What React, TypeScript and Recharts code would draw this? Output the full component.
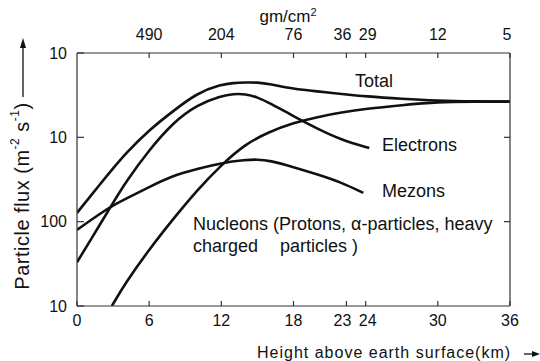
import React from 'react';
import { LineChart, Line, XAxis, YAxis, Customized } from 'recharts';

const FONT = '"Liberation Sans", Arial, sans-serif';

// Height above earth surface (km) and particle flux values per series
const totalKm = [0, 2, 3, 4, 6, 8, 10, 12, 13, 14, 15, 16, 18, 20, 22, 24, 27, 30, 33, 36];
const totalFlux = [127, 288, 428, 635, 1225, 2055, 3365, 4235, 4415, 4480, 4480, 4300, 3750, 3505, 3270, 3055, 2860, 2720, 2665, 2650];

const electronKm = [0, 2, 3, 4, 6, 8, 10, 12, 13, 14, 15, 16, 18, 20, 22, 24.3];
const electronFlux = [33, 97, 167, 288, 710, 1503, 2440, 3100, 3270, 3270, 2990, 2560, 1780, 1262, 931, 748];

const mezonKm = [0, 2, 3, 4, 6, 8, 10, 12, 14, 15, 16, 18, 20, 22, 23.8];
const mezonFlux = [80, 127, 156, 185, 258, 353, 422, 497, 540, 547, 532, 445, 363, 292, 219];

const nucleonKm = [2.9, 4, 6, 8, 10, 12, 14, 16, 18, 20, 22, 24, 27, 30, 33, 36];
const nucleonFlux = [10, 18.5, 46.9, 108, 238, 471, 835, 1165, 1487, 1746, 1973, 2178, 2410, 2630, 2645, 2650];

// Axis ticks
const bottomTickKm = [0, 6, 12, 18, 22.4, 24, 30, 36];
const bottomTickLabels = ['0', '6', '12', '18', '23', '24', '30', '36'];
const topTickKm = [6, 12, 18, 22.4, 24, 30, 36];
const topTickLabels = ['490', '204', '76', '36', '29', '12', '5'];
const fluxTicks = [10, 100, 1000, 10000];
const fluxTickLabels = ['10', '100', '10', '10'];

// label nudges (px) so adjacent tick labels do not collide
const bottomLabelNudge = [0, 0, 0, 0, -4, 2, 0, 0];
const topLabelNudge = [0, 0, 0, -4, 2, 0, -3];

const toData = (xs: number[], ys: number[]) => xs.map((km, i) => ({ km, flux: ys[i] }));
const totalData = toData(totalKm, totalFlux);
const electronData = toData(electronKm, electronFlux);
const mezonData = toData(mezonKm, mezonFlux);
const nucleonData = toData(nucleonKm, nucleonFlux);

const INK = '#111';
const AXIS = '#333';

const makeTick = (ticks: number[], labels: string[], nudge: number[], pos: 'top' | 'bottom') =>
  (props: any) => {
    const { x, y, payload } = props;
    const i = ticks.indexOf(payload.value);
    return (
      <text
        x={x + (nudge[i] || 0)}
        y={y}
        dy={pos === 'bottom' ? '0.71em' : 0}
        textAnchor="middle"
        fill={INK}
        fontSize={16}
        fontFamily={FONT}
      >
        {i >= 0 ? labels[i] : ''}
      </text>
    );
  };

const ChartTexts = () => (
  <g fontFamily={FONT} fill={INK}>
    {/* y-axis title */}
    <text
      x={22}
      y={196}
      transform="rotate(-90 22 196)"
      textAnchor="middle"
      dominantBaseline="central"
      fontSize={20}
      letterSpacing={0.5}
    >
      Particle flux (m<tspan dy={-7} fontSize={12}>-2</tspan>
      <tspan dy={7}> s</tspan>
      <tspan dy={-7} fontSize={12}>-1</tspan>
      <tspan dy={7}>)</tspan>
    </text>
    <line x1={23} y1={97} x2={23} y2={46} stroke={INK} strokeWidth={1.3} />
    <polygon points="23,38 20,48 26,48" fill={INK} />

    {/* x-axis title */}
    <text x={257} y={358} fontSize={16} letterSpacing={1}>
      Height above earth surface(km)
    </text>
    <line x1={524} y1={354} x2={533} y2={354} stroke={INK} strokeWidth={1.3} />
    <polygon points="540,354 532,351 532,357" fill={INK} />

    {/* top axis title */}
    <text x={288} y={22} textAnchor="middle" fontSize={17}>
      gm/cm<tspan dy={-6} fontSize={11}>2</tspan>
    </text>

    {/* series labels */}
    <text x={355} y={87} fontSize={18}>Total</text>
    <text x={382} y={151} fontSize={18}>Electrons</text>
    <text x={382} y={197} fontSize={18}>Mezons</text>
    <text x={193} y={230} fontSize={18}>Nucleons</text>
    <text x={273} y={230} fontSize={18}>(Protons, α-particles, heavy</text>
    <text x={193} y={252} fontSize={18}>charged</text>
    <text x={280} y={252} fontSize={18}>particles )</text>
  </g>
);

const tickStyle = { fill: INK, fontSize: 16, fontFamily: FONT };

export default function App() {
  return (
    <div style={{ position: 'absolute', left: 0, top: 0, background: '#fff' }}>
      <LineChart width={540} height={361} margin={{ top: 0, right: 0, bottom: 0, left: 0 }}>
        <XAxis
          xAxisId="bottom"
          type="number"
          dataKey="km"
          domain={[0, 36]}
          ticks={bottomTickKm}
          interval={0}
          height={55}
          tickSize={-5}
          tickMargin={14}
          tick={makeTick(bottomTickKm, bottomTickLabels, bottomLabelNudge, 'bottom')}
          axisLine={{ stroke: AXIS, strokeWidth: 1.2 }}
          tickLine={{ stroke: AXIS, strokeWidth: 1.2 }}
          allowDataOverflow
        />
        <XAxis
          xAxisId="top"
          orientation="top"
          type="number"
          dataKey="km"
          domain={[0, 36]}
          ticks={topTickKm}
          interval={0}
          height={53}
          tickSize={-5}
          tickMargin={18}
          tick={makeTick(topTickKm, topTickLabels, topLabelNudge, 'top')}
          axisLine={{ stroke: AXIS, strokeWidth: 1.2 }}
          tickLine={{ stroke: AXIS, strokeWidth: 1.2 }}
          allowDataOverflow
        />
        <YAxis
          yAxisId="left"
          scale="log"
          type="number"
          domain={[10, 10000]}
          ticks={fluxTicks}
          interval={0}
          tickFormatter={(v: number) => fluxTickLabels[fluxTicks.indexOf(v)] ?? ''}
          width={77}
          tickSize={-7}
          tickMargin={17}
          tick={tickStyle}
          axisLine={{ stroke: AXIS, strokeWidth: 1.2 }}
          tickLine={{ stroke: AXIS, strokeWidth: 1.2 }}
          allowDataOverflow
        />
        <YAxis
          yAxisId="right"
          orientation="right"
          scale="log"
          type="number"
          domain={[10, 10000]}
          ticks={[100, 1000]}
          interval={0}
          tickFormatter={() => ''}
          width={30}
          tickSize={-6}
          tick={tickStyle}
          axisLine={{ stroke: AXIS, strokeWidth: 1.2 }}
          tickLine={{ stroke: AXIS, strokeWidth: 1.2 }}
          allowDataOverflow
        />
        <Line xAxisId="bottom" yAxisId="left" data={totalData} dataKey="flux" type="basis" stroke={INK} strokeWidth={2.6} dot={false} isAnimationActive={false} />
        <Line xAxisId="bottom" yAxisId="left" data={electronData} dataKey="flux" type="basis" stroke={INK} strokeWidth={2.6} dot={false} isAnimationActive={false} />
        <Line xAxisId="bottom" yAxisId="left" data={mezonData} dataKey="flux" type="basis" stroke={INK} strokeWidth={2.6} dot={false} isAnimationActive={false} />
        <Line xAxisId="bottom" yAxisId="left" data={nucleonData} dataKey="flux" type="basis" stroke={INK} strokeWidth={2.6} dot={false} isAnimationActive={false} />
        <Customized component={ChartTexts} />
      </LineChart>
    </div>
  );
}
